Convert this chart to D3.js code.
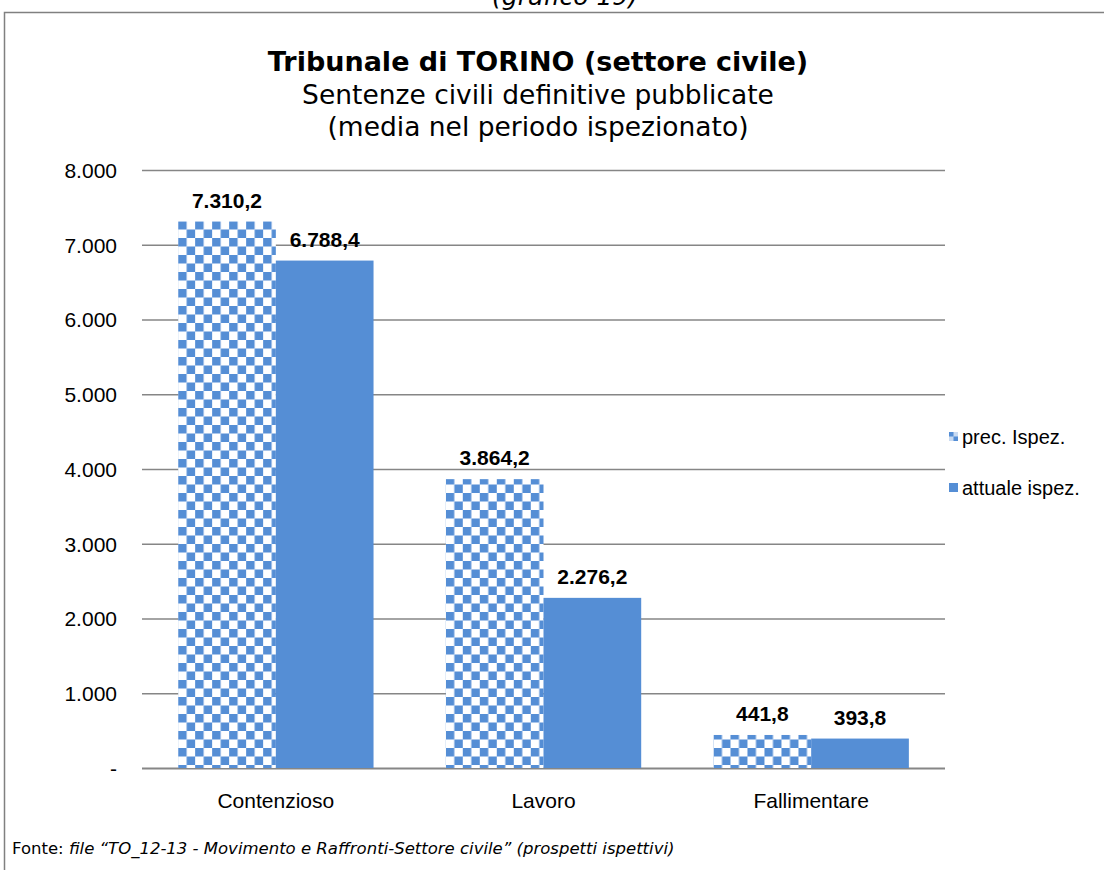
<!DOCTYPE html>
<html>
<head>
<meta charset="utf-8">
<script src="https://cdn.jsdelivr.net/npm/d3@7"></script>
<style>
  body { margin: 0; background: #fff; }
  svg { display: block; }
</style>
</head>
<body>
<div id="chart"></div>
<script>
// Data.
const categories = ['Contenzioso', 'Lavoro', 'Fallimentare'];
const seriesNames = ['prec. Ispez.', 'attuale ispez.'];
const precValues = [7310.2, 3864.2, 441.8];
const attualeValues = [6788.4, 2276.2, 393.8];
const yTicks = [0, 1000, 2000, 3000, 4000, 5000, 6000, 7000, 8000];

const W = 1104, H = 870;
const blue = '#558ED5';
const margin = {top: 170, left: 142, right: 159, bottom: 102};
const width = W - margin.left - margin.right;
const height = H - margin.top - margin.bottom;

const svg = d3.select('#chart')
    .append('svg')
        .attr('width', W)
        .attr('height', H);

// Checkerboard pattern for the first series.
const cell = 8.5;
const pat = svg.append('defs').append('pattern')
    .attr('id', 'checker')
    .attr('patternUnits', 'userSpaceOnUse')
    .attr('width', cell * 2)
    .attr('height', cell * 2);
pat.append('rect').attr('width', cell * 2).attr('height', cell * 2).attr('fill', '#fff');
pat.append('rect').attr('width', cell).attr('height', cell).attr('fill', blue);
pat.append('rect').attr('x', cell).attr('y', cell).attr('width', cell).attr('height', cell).attr('fill', blue);

// Frame.
svg.append('path')
    .attr('d', `M4.5,${H} V12.5 H${W}`)
    .attr('fill', 'none')
    .attr('stroke', '#808080')
    .attr('stroke-width', 1.5);

// Caption, cut by the top edge.
svg.append('text')
    .attr('x', 565).attr('y', 5)
    .attr('text-anchor', 'middle')
    .style('font-family', 'DejaVu Sans')
    .style('font-style', 'italic')
    .style('font-size', '25px')
    .text('(grafico 19)');

// Titles.
const titleFont = 'DejaVu Sans';
svg.append('text')
    .attr('x', 538).attr('y', 71)
    .attr('text-anchor', 'middle')
    .style('font-family', titleFont)
    .style('font-weight', 'bold')
    .style('font-size', '27px')
    .text('Tribunale di TORINO (settore civile)');
svg.append('text')
    .attr('x', 538).attr('y', 104)
    .attr('text-anchor', 'middle')
    .style('font-family', titleFont)
    .style('font-size', '26.5px')
    .text('Sentenze civili definitive pubblicate');
svg.append('text')
    .attr('x', 538).attr('y', 136)
    .attr('text-anchor', 'middle')
    .style('font-family', titleFont)
    .style('font-size', '26.5px')
    .text('(media nel periodo ispezionato)');

const g = svg.append('g')
    .attr('transform', `translate(${margin.left},${margin.top})`);

const x0 = d3.scaleBand().domain(categories).range([0, width]).paddingInner(0.27).paddingOuter(0.135);
const x1 = d3.scaleBand().domain(seriesNames).range([0, x0.bandwidth()]);
const y = d3.scaleLinear().domain([0, 8000]).range([height, 0]);

const fmt = d3.formatLocale({decimal: ',', thousands: '.', grouping: [3], currency: ['', '']});
const fmtTick = v => v === 0 ? '-' : fmt.format(',.0f')(v);
const fmtVal = fmt.format(',.1f');

const labelFont = 'Liberation Sans, Arial';

// Gridlines.
g.append('g')
    .selectAll('line')
    .data(yTicks)
    .join('line')
        .attr('x1', 0).attr('x2', width)
        .attr('y1', d => y(d) + 0.5).attr('y2', d => y(d) + 0.5)
        .attr('stroke', '#868686')
        .attr('stroke-width', d => d === 0 ? 2 : 1.5);

// Y axis labels.
const yAxis = g.append('g')
    .attr('transform', 'translate(-25,0)')
    .call(d3.axisLeft(y).tickValues(yTicks).tickFormat(fmtTick).tickSize(0));
yAxis.select('.domain').remove();
yAxis.selectAll('text')
    .attr('x', 0)
    .attr('dy', '0.35em')
    .style('font-family', labelFont)
    .style('font-size', '21px')
    .attr('fill', '#000');

// X axis labels.
const xAxis = g.append('g')
    .attr('transform', `translate(0,${height})`)
    .call(d3.axisBottom(x0).tickSize(0));
xAxis.select('.domain').remove();
xAxis.selectAll('text')
    .attr('y', 40)
    .attr('dy', 0)
    .style('font-family', labelFont)
    .style('font-size', '21px')
    .attr('fill', '#000');

// Bars.
const rows = categories.map((c, i) => ({cat: c, vals: [precValues[i], attualeValues[i]]}));
const groups = g.selectAll('.cat')
    .data(rows)
    .join('g')
        .attr('class', 'cat')
        .attr('transform', d => `translate(${x0(d.cat)},0)`);

groups.selectAll('rect')
    .data(d => d.vals.map((v, j) => ({s: seriesNames[j], v})))
    .join('rect')
        .attr('x', d => x1(d.s))
        .attr('y', d => y(d.v))
        .attr('width', x1.bandwidth())
        .attr('height', d => y(0) - y(d.v))
        .attr('fill', d => d.s === seriesNames[0] ? 'url(#checker)' : blue);

groups.selectAll('.lbl')
    .data(d => d.vals.map((v, j) => ({s: seriesNames[j], v})))
    .join('text')
        .attr('class', 'lbl')
        .attr('x', d => x1(d.s) + x1.bandwidth() / 2)
        .attr('y', d => y(d.v) - 14)
        .attr('text-anchor', 'middle')
        .style('font-family', labelFont)
        .style('font-weight', 'bold')
        .style('font-size', '21px')
        .text(d => fmtVal(d.v));

// Legend.
const legend = svg.append('g')
    .attr('transform', 'translate(949,0)');
const legendY = [444, 495];
seriesNames.forEach((s, i) => {
    const top = legendY[i] - 12;
    if (i === 0) {
        legend.append('rect').attr('x', 0).attr('y', top).attr('width', 9).attr('height', 9).attr('fill', '#c9daf1');
        legend.append('rect').attr('x', 0).attr('y', top).attr('width', 4.5).attr('height', 4.5).attr('fill', blue);
        legend.append('rect').attr('x', 4.5).attr('y', top + 4.5).attr('width', 4.5).attr('height', 4.5).attr('fill', blue);
    } else {
        legend.append('rect').attr('x', 0).attr('y', top).attr('width', 9).attr('height', 9).attr('fill', blue);
    }
    legend.append('text')
        .attr('x', 13).attr('y', legendY[i])
        .style('font-family', labelFont)
        .style('font-size', '20px')
        .text(s);
});

// Source note.
const note = svg.append('text')
    .attr('x', 12).attr('y', 854)
    .style('font-family', 'DejaVu Sans')
    .style('font-size', '16.5px');
note.append('tspan').text('Fonte: ');
note.append('tspan')
    .style('font-style', 'italic')
    .text('file \u201CTO_12-13 - Movimento e Raffronti-Settore civile\u201D (prospetti ispettivi)');
</script>
</body>
</html>
